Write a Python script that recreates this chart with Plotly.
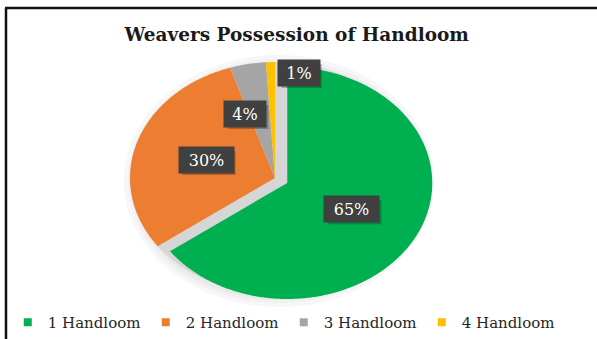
import numpy as np
import plotly.graph_objects as go

# ---- data ----
categories = ["1 Handloom", "2 Handloom", "3 Handloom", "4 Handloom"]
values = [65, 30, 4, 1]
label_texts = [f"{v}%" for v in values]

# ---- style ----
colors = ["#00B050", "#ED7D31", "#A5A5A5", "#FFC000"]
pulls = [0.095, 0, 0, 0]
W, H = 597, 339
cx, cy, rx, ry = 275, 178, 145, 116          # pie geometry (pixel axes)
label_frac = 0.5
label_shift = [(0, 0), (0, 0), (-16, -7), (26, -47)]
serif = "DejaVu Serif"

fig = go.Figure()

total = float(sum(values))
bounds = np.concatenate([[0], np.cumsum(values)]) / total * 2 * np.pi


def slice_xy(a0, a1, ox, oy):
    t = np.linspace(a0, a1, max(int((a1 - a0) / 0.01), 4))
    xs = np.concatenate([[ox], ox + rx * np.sin(t), [ox]])
    ys = np.concatenate([[oy], oy - ry * np.cos(t), [oy]])
    return xs, ys


# soft glow around the pie
for k, col in [(10, "#F7F7F7"), (6, "#F1F1F1"), (3, "#EAEAEA")]:
    t = np.linspace(0, 2 * np.pi, 400)
    fig.add_trace(go.Scatter(x=cx + 4 + (rx + k) * np.sin(t), y=cy + 3 - (ry + k) * np.cos(t),
                             fill="toself", mode="none", fillcolor=col,
                             hoverinfo="skip", showlegend=False))

# shadow of the exploded slice (shows in the gap)
for i, p in enumerate(pulls):
    if p > 0:
        xs, ys = slice_xy(bounds[i], bounds[i + 1], cx, cy)
        fig.add_trace(go.Scatter(x=xs, y=ys, fill="toself", mode="none",
                                 fillcolor="#D6D6D6", hoverinfo="skip",
                                 showlegend=False))

annotations = []
shapes = [
    dict(type="line", xref="x", yref="y", x0=5, x1=W, y0=8, y1=8,
         line=dict(color="#111111", width=2.5)),
    dict(type="line", xref="x", yref="y", x0=6, x1=6, y0=8, y1=H,
         line=dict(color="#111111", width=2.5)),
]
for i, (cat, v) in enumerate(zip(categories, values)):
    a0, a1 = bounds[i], bounds[i + 1]
    mid = (a0 + a1) / 2
    ox = cx + pulls[i] * rx * np.sin(mid)
    oy = cy - pulls[i] * ry * np.cos(mid)
    xs, ys = slice_xy(a0, a1, ox, oy)
    fig.add_trace(go.Scatter(x=xs, y=ys, fill="toself", mode="none",
                             fillcolor=colors[i], name=cat, legendgroup=cat,
                             showlegend=False, hoverinfo="text",
                             text=f"{cat}: {v}%"))
    lx = ox + label_frac * rx * np.sin(mid) + label_shift[i][0]
    ly = oy - label_frac * ry * np.cos(mid) + label_shift[i][1]
    bw = 13 * len(label_texts[i]) + 14
    # drop shadow of the label box
    shapes.append(dict(type="rect", xref="x", yref="y", layer="above",
                       x0=lx - bw / 2 + 3, x1=lx + bw / 2 + 3, y0=ly - 12 + 3, y1=ly + 12 + 3,
                       fillcolor="rgba(0,0,0,0.25)", line=dict(width=0)))
    annotations.append(dict(x=lx, y=ly, xref="x", yref="y", text=label_texts[i],
                            showarrow=False, width=bw, height=24,
                            bgcolor="#404040", font=dict(color="white", size=16, family=serif)))

# legend entries
for cat, c in zip(categories, colors):
    fig.add_trace(go.Scatter(x=[None], y=[None], mode="markers", name=cat,
                             legendgroup=cat,
                             marker=dict(symbol="square", size=8, color=c)))

fig.update_layout(
    width=W, height=H,
    margin=dict(l=0, r=0, t=0, b=0),
    paper_bgcolor="white", plot_bgcolor="white",
    xaxis=dict(range=[0, W], visible=False, fixedrange=True),
    yaxis=dict(range=[H, 0], visible=False, fixedrange=True),
    title=dict(text="<b>Weavers Possession of Handloom</b>", x=0.497, xanchor="center",
               y=1 - 35 / H, yanchor="middle", yref="container",
               font=dict(family=serif, size=18.5, color="#1a1a1a")),
    legend=dict(orientation="h", x=0.013, xanchor="left",
                y=0.0, yanchor="bottom",
                font=dict(family=serif, size=15, color="#262626"),
                itemwidth=30, entrywidth=93, bgcolor="rgba(0,0,0,0)",
                tracegroupgap=0),
    annotations=annotations,
    shapes=shapes,
    showlegend=True,
)

fig.write_html("out.html")
